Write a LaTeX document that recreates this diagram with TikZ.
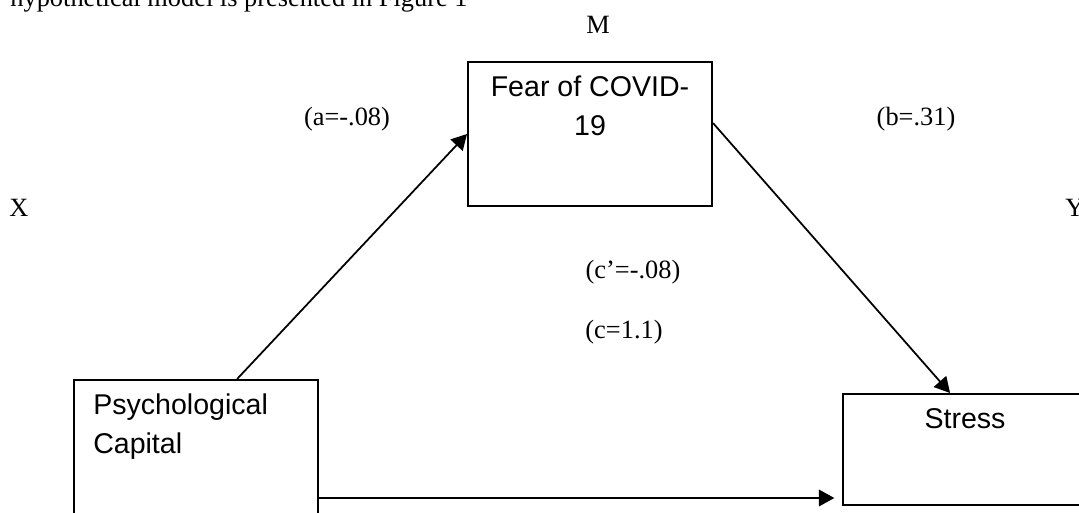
\documentclass[tikz,border=0pt]{standalone}
\usepackage{fontspec}
\setmainfont{Liberation Serif}
\newfontfamily\boxfont{Liberation Sans}
\usetikzlibrary{positioning,arrows.meta,calc}

\begin{document}
\begin{tikzpicture}[x=0.455pt, y=-0.455pt, >={Triangle[length=7pt, width=7.5pt]},
  box/.style={draw, line width=0.9pt, minimum width=111pt, inner sep=0pt},
  boxtext/.style={inner sep=0pt, font=\boxfont\fontsize{13}{17.7}\selectfont},
  lbl/.style={inner sep=0pt, font=\fontsize{12}{14}\selectfont}]
  \useasboundingbox (0,0) rectangle (1079,513);
  \clip (0,0) rectangle (1079,513);
  \node[lbl, anchor=base west] (caption) at (10,7) {hypothetical model is presented in Figure 1};

  % boxes
  \node[box, minimum height=65.5pt] (fear) at (590,134) {};
  \node[box, minimum height=107.4pt, anchor=north] (psych) at (196,379) {};
  \node[box, minimum height=50.5pt, anchor=north] (stress) at (965,393) {};
  \node[boxtext, align=center, anchor=north, below=6.5pt of fear.north] (feartxt) {Fear of COVID-\\19};
  \node[boxtext, align=left, anchor=north west] (psychtxt) at ([xshift=9pt, yshift=-6.4pt]psych.north west) {Psychological\\Capital};
  \node[boxtext, anchor=north, below=7pt of stress.north] (stresstxt) {Stress};

  % labels
  \node[lbl] (x) at (19,208) {X};
  \node[lbl] (y) at (1075,208) {Y};
  \node[lbl] (m) at (598,25) {M};
  \node[lbl] (a) at (347,119) {(a=-.08)};
  \node[lbl] (b) at (916,119) {(b=.31)};
  \node[lbl] (cp) at (633,272) {(c’=-.08)};
  \node[lbl] (c) at (624,332) {(c=1.1)};

  % paths
  \draw[->, line width=0.8pt] ([xshift=18.7pt]psych.north) -- (fear.west);
  \draw[->, line width=0.8pt] ([yshift=5pt]fear.east) -- ([xshift=-6.8pt]stress.north);
  \draw[->, line width=0.8pt, shorten >=3.5pt] (psych.east) -- (psych.east -| stress.west);
\end{tikzpicture}
\end{document}
